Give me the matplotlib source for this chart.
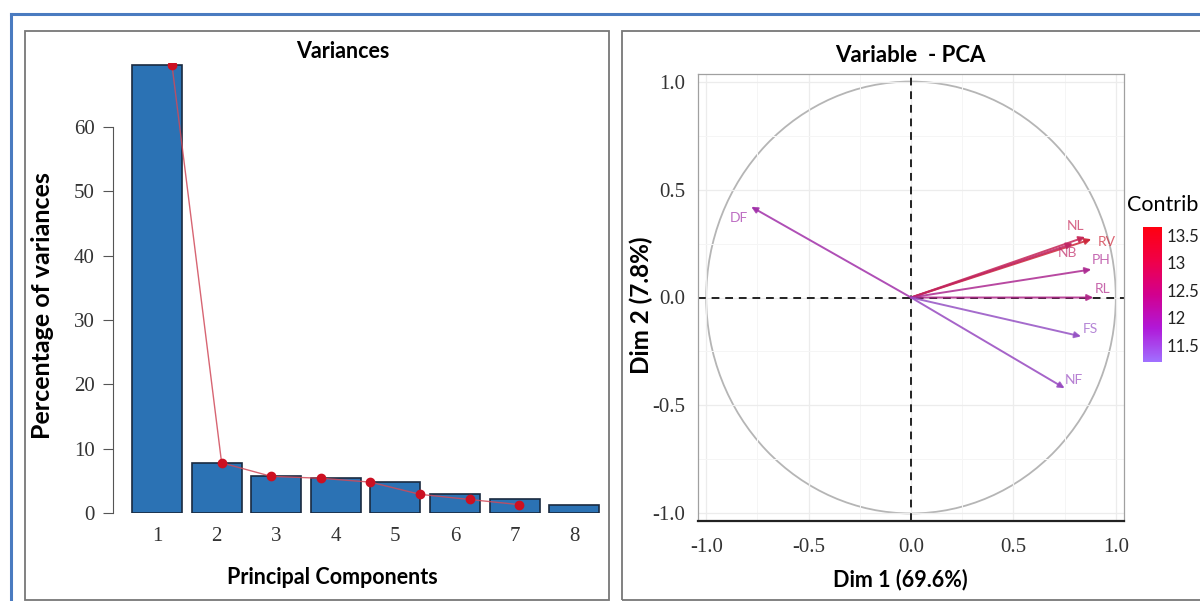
import matplotlib
matplotlib.use("Agg")
import matplotlib.pyplot as plt
from matplotlib.patches import Rectangle, Circle
from matplotlib.lines import Line2D
from matplotlib.colors import LinearSegmentedColormap, Normalize
from matplotlib.cm import ScalarMappable

# ---- data ----
pcs = [1, 2, 3, 4, 5, 6, 7, 8]
variance_pct = [69.6, 7.8, 5.7, 5.4, 4.8, 2.9, 2.1, 1.3]

var_names = ["DF", "NL", "RV", "NB", "PH", "RL", "FS", "NF"]
dim1 = [-0.78, 0.85, 0.88, 0.79, 0.88, 0.89, 0.83, 0.75]
dim2 = [0.42, 0.28, 0.27, 0.25, 0.13, 0.0, -0.18, -0.42]
contrib = [12.0, 13.1, 13.6, 12.9, 12.3, 12.4, 11.5, 11.6]

# label offsets (points) from arrow tip
label_off = {"DF": (-9, -8), "NL": (-7, 8), "RV": (11, -2), "NB": (-4, -7),
             "PH": (7, 7), "RL": (7, 6), "FS": (7, 5), "NF": (7, 6)}

W, H = 1200, 601
fig = plt.figure(figsize=(12, 6.01), dpi=100)
fig.patch.set_facecolor("white")


def fx(px):
    return px / W


def fy(py):
    return 1 - py / H


def muted(c, k=0.35, grey=(0.45, 0.42, 0.48)):
    # soften the colour a little, the reference is blurry and washed out
    return tuple((1 - k) * c[i] + k * grey[i] for i in range(3))


serif = "Liberation Serif"
sans = "Lato"

# outer blue frame and panel boxes
fig.add_artist(Line2D([fx(11), 1.0], [fy(14), fy(14)], color="#4a7bc0", lw=2.2))
fig.add_artist(Line2D([fx(11), fx(11)], [fy(14), 0], color="#4a7bc0", lw=2.2))
fig.add_artist(Rectangle((fx(25), fy(600)), (609 - 25) / W, (600 - 31) / H,
                         transform=fig.transFigure, fill=False, ec="#777777", lw=1.3))
fig.add_artist(Rectangle((fx(622), fy(600)), (1215 - 622) / W, (600 - 31) / H,
                         transform=fig.transFigure, fill=False, ec="#777777", lw=1.3))

# ---------------- left: scree plot ----------------
ax1 = fig.add_axes([fx(113), fy(513), (605 - 113) / W, (513 - 62.7) / H])
ax1.bar(pcs, variance_pct, width=0.84, color="#2b72b4", edgecolor="#1a2a40", lw=1.2, zorder=2)
ax1.set_xlim(0.262, 8.517)
ax1.set_ylim(0, 70)
for s in ["top", "right", "bottom"]:
    ax1.spines[s].set_visible(False)
ax1.spines["left"].set_bounds(0, 60)
ax1.spines["left"].set_color("#555555")
ax1.set_yticks(range(0, 61, 10))
ax1.set_xticks(pcs)
ax1.tick_params(axis="y", length=7, color="#555555", labelcolor="#333333", pad=6)
ax1.tick_params(axis="x", length=0, labelcolor="#333333", pad=10)
for lab in ax1.get_xticklabels() + ax1.get_yticklabels():
    lab.set_fontfamily(serif)
    lab.set_fontsize(15)
ax1.patch.set_alpha(0)

# dots/line drawn on a twin x scale (they sit offset from the bars in the reference)
ax1b = ax1.twiny()
ax1b.plot(pcs, variance_pct, color="#d04a5a", lw=1.0, alpha=0.85, zorder=3)
ax1b.plot(pcs, variance_pct, "o", color="#cc1022", ms=6, zorder=4)
ax1b.set_xlim(-0.19, 9.73)
ax1b.axis("off")

fig.text(fx(343), fy(52), "Variances", ha="center", va="center",
         fontsize=15.5, fontweight="bold", family=sans)
fig.text(fx(332), fy(578), "Principal Components", ha="center", va="center",
         fontsize=15.5, fontweight="bold", family=sans)
fig.text(fx(42), fy(306), "Percentage of variances", ha="center", va="center",
         rotation=90, fontsize=18, fontweight="bold", family=sans)

# ---------------- right: variable PCA ----------------
cmap = LinearSegmentedColormap.from_list(
    "contrib", ["#a070ff", "#b018d8", "#d2008e", "#f00048", "#ff0010"])
norm = Normalize(vmin=11.2, vmax=13.65)

ax2 = fig.add_axes([fx(698), fy(521), (1124 - 698) / W, (521 - 74) / H])
ax2.set_xlim(-1.04, 1.04)
ax2.set_ylim(-1.035, 1.035)
ax2.set_xticks([-1.0, -0.5, 0.0, 0.5, 1.0])
ax2.set_yticks([-1.0, -0.5, 0.0, 0.5, 1.0])
ax2.set_xticks([-0.75, -0.25, 0.25, 0.75], minor=True)
ax2.set_yticks([-0.75, -0.25, 0.25, 0.75], minor=True)
ax2.set_xticklabels(["-1.0", "-0.5", "0.0", "0.5", "1.0"])
ax2.set_yticklabels(["-1.0", "-0.5", "0.0", "0.5", "1.0"])
ax2.grid(True, which="major", color="#ececec", lw=0.9, zorder=0)
ax2.grid(True, which="minor", color="#f5f5f5", lw=0.7, zorder=0)
ax2.tick_params(which="both", length=0, labelcolor="#333333")
ax2.tick_params(axis="x", pad=12)
ax2.tick_params(axis="y", pad=9)
for lab in ax2.get_xticklabels() + ax2.get_yticklabels():
    lab.set_fontfamily(serif)
    lab.set_fontsize(15)
for s in ["top", "right", "left"]:
    ax2.spines[s].set_color("#a0a0a0")
    ax2.spines[s].set_linewidth(0.9)
ax2.spines["bottom"].set_color("#222222")
ax2.spines["bottom"].set_linewidth(1.6)

ax2.add_patch(Circle((0, 0), 1.0, fill=False, ec="#b5b5b5", lw=1.3, zorder=1))
ax2.axhline(0, color="#222222", ls=(0, (4, 3)), lw=1.4, zorder=2)
ax2.axvline(0, color="#222222", ls=(0, (4, 3)), lw=1.4, zorder=2)

for name, x, y, c in zip(var_names, dim1, dim2, contrib):
    col = muted(cmap(norm(c)))
    ax2.annotate("", xy=(x, y), xytext=(0, 0),
                 arrowprops=dict(arrowstyle="-|>", color=col, lw=1.4, alpha=0.85,
                                 mutation_scale=9, shrinkA=0, shrinkB=0), zorder=3)
    dx, dy = label_off[name]
    ax2.annotate(name, xy=(x, y), xytext=(dx, dy), textcoords="offset points",
                 ha="center", va="center", fontsize=10, color=col, alpha=0.7,
                 family=sans, zorder=4)

fig.text(fx(910), fy(55), "Variable  - PCA", ha="center", va="center",
         fontsize=16, fontweight="bold", family=sans)
fig.text(fx(900), fy(580), "Dim 1 (69.6%)", ha="center", va="center",
         fontsize=15.5, fontweight="bold", family=sans)
fig.text(fx(641), fy(305), "Dim 2 (7.8%)", ha="center", va="center",
         rotation=90, fontsize=17.5, fontweight="bold", family=sans)

# colour bar
cax = fig.add_axes([fx(1143), fy(362), (1162 - 1143) / W, (362 - 227) / H])
cb = fig.colorbar(ScalarMappable(norm=norm, cmap=cmap), cax=cax,
                  ticks=[11.5, 12, 12.5, 13, 13.5])
cb.ax.set_yticklabels(["11.5", "12", "12.5", "13", "13.5"])
cb.outline.set_visible(False)
cb.ax.tick_params(length=3, color="white", labelsize=12, pad=0, labelcolor="#222222")
for lab in cb.ax.get_yticklabels():
    lab.set_fontfamily(sans)
fig.text(fx(1163), fy(205), "Contrib", ha="center", va="center",
         fontsize=15.5, family=sans)

fig.savefig("out.png", dpi=100)
